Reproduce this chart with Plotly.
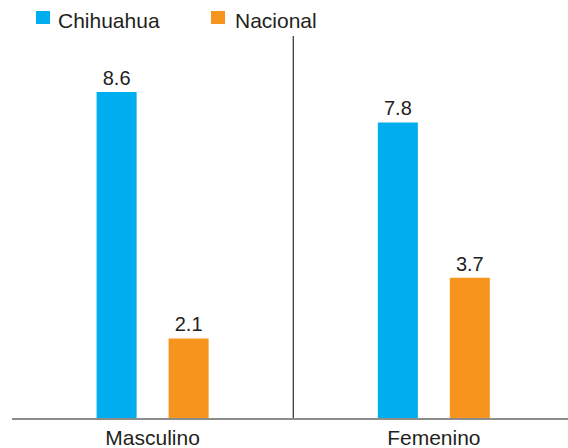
"""Grouped bar chart: Chihuahua vs Nacional by sex."""

import plotly.graph_objects as go

categories = ["Masculino", "Femenino"]
series_names = ["Chihuahua", "Nacional"]
chihuahua = [8.6, 7.8]
nacional = [2.1, 3.7]

BLUE = "#00AEEF"
ORANGE = "#F7941D"
TEXT = "#231F20"
FONT = "Liberation Sans, Arial, sans-serif"

fig = go.Figure()
for name, values, color in [
    (series_names[0], chihuahua, BLUE),
    (series_names[1], nacional, ORANGE),
]:
    fig.add_trace(
        go.Bar(
            x=categories,
            y=values,
            name=name,
            marker={"color": color, "line": {"width": 0}},
            text=[f"{v:.1f}" for v in values],
            textposition="outside",
            textfont={"size": 20, "color": TEXT, "family": FONT},
            cliponaxis=False,
            showlegend=False,
        )
    )

# thin divider between the two groups
fig.add_shape(
    type="line",
    xref="x",
    yref="paper",
    x0=0.5,
    x1=0.5,
    y0=0,
    y1=1,
    line={"color": "#000000", "width": 1},
)

# legend drawn by hand: square swatch + label, above the plot area
legend_items = [
    (series_names[0], BLUE, 0.0432, 0.0683, 0.0791),
    (series_names[1], ORANGE, 0.3579, 0.3831, 0.3975),
]
for label, color, sx0, sx1, tx in legend_items:
    fig.add_shape(
        type="rect",
        xref="paper",
        yref="paper",
        x0=sx0,
        x1=sx1,
        y0=1.0314,
        y1=1.0654,
        line={"width": 0},
        fillcolor=color,
    )
    fig.add_annotation(
        text=label,
        xref="paper",
        yref="paper",
        x=tx,
        y=1.0393,
        xanchor="left",
        yanchor="middle",
        showarrow=False,
        font={"size": 21, "color": TEXT},
    )

fig.update_layout(
    width=568,
    height=448,
    barmode="group",
    bargap=0.488,
    bargroupgap=0.444,
    plot_bgcolor="white",
    paper_bgcolor="white",
    font={"family": FONT, "color": TEXT, "size": 20},
    margin={"l": 12, "r": 0, "t": 36, "b": 30},
    showlegend=False,
    xaxis={
        "range": [-0.5, 1.477],
        "showline": True,
        "linecolor": "#8C8C8C",
        "linewidth": 2,
        "ticks": "",
        "showgrid": False,
        "zeroline": False,
        "tickfont": {"size": 21, "color": TEXT},
    },
    yaxis={
        "range": [0, 10.08],
        "showticklabels": False,
        "showgrid": False,
        "zeroline": False,
        "showline": False,
    },
)

# the page body has a default 8px margin; drop it so the figure sits at 0,0
fig.write_html(
    "out.html",
    config={"displayModeBar": False},
    post_script="document.body.style.margin='0';",
)
